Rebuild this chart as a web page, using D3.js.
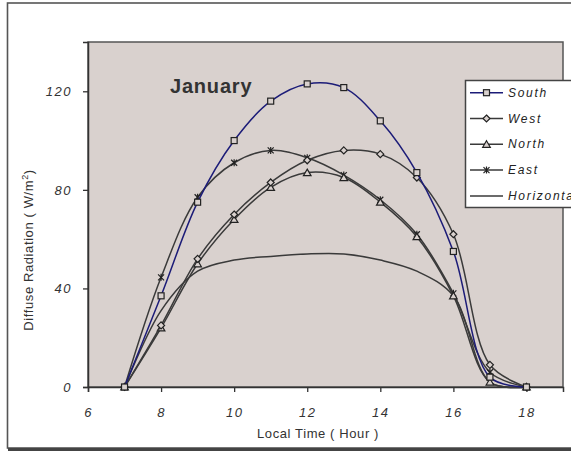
<!DOCTYPE html>
<html>
<head>
<meta charset="utf-8">
<script src="https://cdn.jsdelivr.net/npm/d3@7"></script>
<style>
  body { margin: 0; background: #fff; }
  svg text { font-family: "Liberation Sans", Arial, sans-serif; }
</style>
</head>
<body>
<div id="chart"></div>
<script>
;(function () {

    // values
    var hours      = [7, 8, 9, 10, 11, 12, 13, 14, 15, 16, 17, 18];
    var south      = [0, 37, 75, 100, 116, 123, 121.5, 108, 87, 55, 4, 0];
    var west       = [0, 25, 52, 70, 83, 92, 96, 94.5, 85, 62, 9, 0];
    var north      = [0, 24, 50, 68, 81, 87, 85, 75, 61, 37, 2, 0];
    var east       = [0, 44.5, 77, 91, 96, 93, 86, 76, 62, 38, 6, 0];
    var horizontal = [0, 31, 47, 51.5, 53, 54, 54, 51.5, 47, 37, 2, 0];

    var seriesNames = ['South', 'West', 'North', 'East', 'Horizontal'];
    var seriesData  = [south, west, north, east, horizontal];
    var xTicks = [6, 8, 10, 12, 14, 16, 18];
    var yTicks = [0, 40, 80, 120];

    var markerOf = { South: 'square', West: 'diamond', North: 'triangle', East: 'star', Horizontal: 'none' };
    var colorOf  = { South: '#1c1c78', West: '#3a3a3a', North: '#3a3a3a', East: '#3a3a3a', Horizontal: '#3a3a3a' };

    var W = 571, H = 451;
    var plot = { left: 88, top: 42, right: 563, bottom: 387 };
    var bg = '#d9d1ce';

    var svg = d3.select('#chart').append('svg')
        .attr('width', W)
        .attr('height', H);

    // outer chart frame with a little shadow at the bottom
    svg.append('rect')
        .attr('x', 7.5).attr('y', 3)
        .attr('width', 620).attr('height', 445)
        .attr('fill', '#fff')
        .attr('stroke', '#555').attr('stroke-width', 1.6);
    svg.append('line')
        .attr('x1', 8).attr('x2', W).attr('y1', 449.5).attr('y2', 449.5)
        .attr('stroke', '#444').attr('stroke-width', 3);

    var x = d3.scaleLinear().domain([6, 19]).range([plot.left, plot.right]);
    var y = d3.scaleLinear().domain([0, 140]).range([plot.bottom, plot.top]);

    svg.append('rect')
        .attr('x', plot.left).attr('y', plot.top)
        .attr('width', plot.right - plot.left)
        .attr('height', plot.bottom - plot.top)
        .attr('fill', bg)
        .attr('stroke', '#555').attr('stroke-width', 1.5);

    // axes
    var yAxis = svg.append('g')
        .attr('transform', 'translate(' + plot.left + ',0)')
        .call(d3.axisLeft(y).tickValues(yTicks).tickSize(5).tickPadding(11));
    var xAxis = svg.append('g')
        .attr('transform', 'translate(0,' + plot.bottom + ')')
        .call(d3.axisBottom(x).tickValues(xTicks).tickSize(5).tickPadding(16));

    [xAxis, yAxis].forEach(function (g) {
        g.select('.domain').attr('stroke', '#333').attr('stroke-width', 1.5);
        g.selectAll('.tick line').attr('stroke', '#333').attr('stroke-width', 1.3);
        g.selectAll('.tick text')
            .attr('fill', '#333')
            .style('font-size', '13px')
            .style('font-style', 'italic')
            .style('letter-spacing', '1.5px');
    });

    // lines
    var line = d3.line()
        .x(function (d) { return x(d[0]); })
        .y(function (d) { return y(d[1]); })
        .curve(d3.curveCatmullRom.alpha(0.5));

    function points(values) {
        return hours.map(function (h, i) { return [h, values[i]]; });
    }

    function drawMarker(g, kind, cx, cy) {
        var s = 3;
        if (kind === 'square') {
            g.append('rect').attr('x', cx - s).attr('y', cy - s)
                .attr('width', 2 * s).attr('height', 2 * s)
                .attr('fill', bg).attr('stroke', '#222').attr('stroke-width', 1.2);
        } else if (kind === 'diamond') {
            g.append('path')
                .attr('d', 'M' + cx + ',' + (cy - 3.5) + 'L' + (cx + 3.5) + ',' + cy +
                           'L' + cx + ',' + (cy + 3.5) + 'L' + (cx - 3.5) + ',' + cy + 'Z')
                .attr('fill', bg).attr('stroke', '#222').attr('stroke-width', 1.2);
        } else if (kind === 'triangle') {
            g.append('path')
                .attr('d', 'M' + cx + ',' + (cy - 3.5) + 'L' + (cx + 3.8) + ',' + (cy + 3) +
                           'L' + (cx - 3.8) + ',' + (cy + 3) + 'Z')
                .attr('fill', bg).attr('stroke', '#222').attr('stroke-width', 1.2);
        } else if (kind === 'star') {
            g.append('path')
                .attr('d', 'M' + (cx - s) + ',' + (cy - s) + 'L' + (cx + s) + ',' + (cy + s) +
                           'M' + (cx + s) + ',' + (cy - s) + 'L' + (cx - s) + ',' + (cy + s) +
                           'M' + cx + ',' + (cy - s - 0.5) + 'L' + cx + ',' + (cy + s + 0.5))
                .attr('fill', 'none').attr('stroke', '#222').attr('stroke-width', 1.2);
        }
    }

    var drawOrder = [4, 3, 2, 1, 0];
    drawOrder.forEach(function (k) {
        var name = seriesNames[k];
        var g = svg.append('g').attr('class', 'series');
        g.append('path')
            .datum(points(seriesData[k]))
            .attr('d', line)
            .attr('fill', 'none')
            .attr('stroke', colorOf[name])
            .attr('stroke-width', 1.5);
        points(seriesData[k]).forEach(function (p) {
            drawMarker(g, markerOf[name], x(p[0]), y(p[1]));
        });
    });

    // title inside the plot
    svg.append('text')
        .attr('x', 170).attr('y', 93)
        .attr('fill', '#333')
        .style('font-size', '20px')
        .style('font-weight', 'bold')
        .style('letter-spacing', '0.8px')
        .text('January');

    // axis titles
    svg.append('text')
        .attr('x', 318).attr('y', 438)
        .attr('text-anchor', 'middle')
        .attr('fill', '#333')
        .style('font-size', '13px')
        .style('letter-spacing', '0.6px')
        .text('Local Time ( Hour )');

    var yt = svg.append('text')
        .attr('transform', 'translate(33,' + 250 + ') rotate(-90)')
        .attr('text-anchor', 'middle')
        .attr('fill', '#333')
        .style('font-size', '13px')
        .style('letter-spacing', '0.6px');
    yt.append('tspan').text('Diffuse Radiation ( W/m');
    yt.append('tspan').attr('dy', -5).style('font-size', '9px').text('2');
    yt.append('tspan').attr('dy', 5).text(')');

    // legend
    var lg = svg.append('g').attr('transform', 'translate(465,80)');
    lg.append('rect')
        .attr('x', 0.5).attr('y', 0.5)
        .attr('width', 130).attr('height', 127)
        .attr('fill', '#fff')
        .attr('stroke', '#444').attr('stroke-width', 1.5);
    seriesNames.forEach(function (name, i) {
        var ly = 12.7 + i * 25.8;
        lg.append('line')
            .attr('x1', 5).attr('x2', 38).attr('y1', ly).attr('y2', ly)
            .attr('stroke', colorOf[name]).attr('stroke-width', 1.5);
        drawMarker(lg, markerOf[name], 21.5, ly);
        lg.append('text')
            .attr('x', 43).attr('y', ly + 4)
            .attr('fill', '#222')
            .style('font-size', '12px')
            .style('font-style', 'italic')
            .style('letter-spacing', '1.7px')
            .text(name);
    });

})();
</script>
</body>
</html>
